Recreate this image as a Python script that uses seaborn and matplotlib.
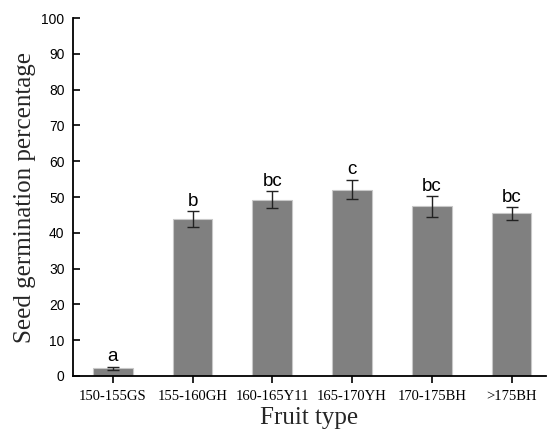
import matplotlib
matplotlib.use("Agg")
import matplotlib.pyplot as plt
import seaborn as sns
import pandas as pd

categories = ["150-155GS", "155-160GH", "160-165Y11", "165-170YH", "170-175BH", ">175BH"]
means = [2.1, 43.9, 49.3, 52.1, 47.4, 45.4]
errors = [0.5, 2.2, 2.3, 2.7, 2.9, 1.8]
letters = ["a", "b", "bc", "c", "bc", "bc"]

sns.set_style("ticks")
df = pd.DataFrame({"Fruit type": categories, "value": means})

fig = plt.figure(figsize=(5.48, 4.33), dpi=100)
ax = fig.add_axes([0.133, 0.132, 0.863, 0.826])
sns.barplot(data=df, x="Fruit type", y="value", color="#808080", saturation=1,
            width=0.5, edgecolor="#c8c8c8", linewidth=0.8, errorbar=None, ax=ax)

centers = [p.get_x() + p.get_width() / 2 for p in ax.patches]
ax.errorbar(centers, means, yerr=errors, fmt="none", ecolor="#222222",
            elinewidth=1.0, capsize=4, capthick=1.0)
for c, m, e, l in zip(centers, means, errors, letters):
    ax.text(c, m + e + 0.4, l, ha="center", va="bottom", fontsize=13.5,
            family="Liberation Sans", color="black")

ax.set_ylim(0, 100)
ax.set_yticks(range(0, 101, 10))
ax.set_xlim(-0.5, 5.43)
for s in ["top", "right"]:
    ax.spines[s].set_visible(False)
for s in ["left", "bottom"]:
    ax.spines[s].set_color("black")
    ax.spines[s].set_linewidth(1.3)
ax.tick_params(axis="y", direction="in", length=5, width=1.2, labelsize=10, colors="black", pad=6)
ax.tick_params(axis="x", direction="out", length=5, width=1.2, labelsize=10.5, colors="black", pad=5)
for t in ax.get_yticklabels():
    t.set_family("Liberation Sans")
for t in ax.get_xticklabels():
    t.set_family("Liberation Serif")
ax.set_xlabel("Fruit type", family="Liberation Serif", fontsize=18, labelpad=3)
ax.set_ylabel("Seed germination percentage", family="Liberation Serif", fontsize=18, labelpad=4)

fig.savefig("out.png", dpi=100)
